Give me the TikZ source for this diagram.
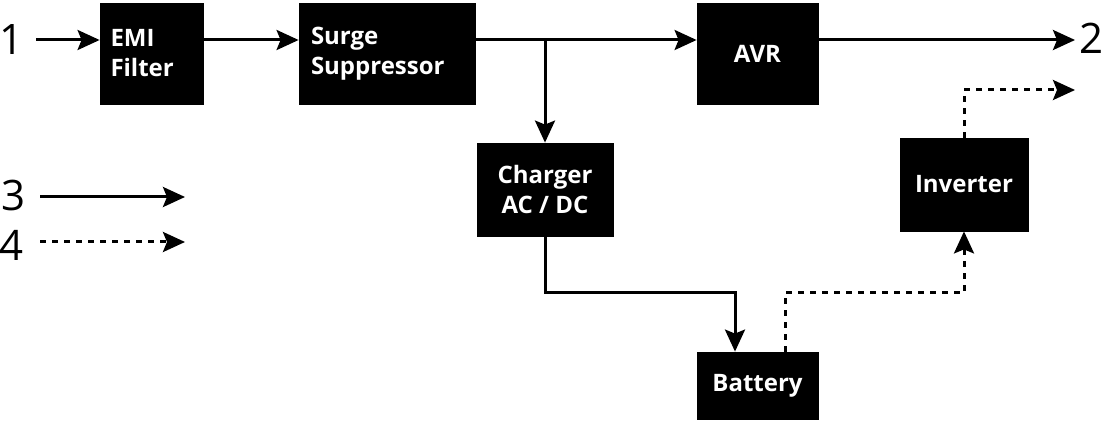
\documentclass[tikz,border=0pt]{standalone}
\usepackage{fontspec}
\setmainfont{Open Sans}
\usetikzlibrary{arrows.meta}
\tikzset{
    block/.style={draw=black,fill=black,text=white,font=\bfseries\fontsize{12pt}{15pt}\selectfont,
        align=left,inner sep=0pt},
    num/.style={font=\fontsize{21pt}{23pt}\selectfont,inner sep=0pt},
    flow/.style={line width=1.5pt,-{Stealth[length=11pt,width=10pt,inset=2pt]}},
    dotflow/.style={flow,dash pattern=on 3pt off 3pt}
}
\begin{document}
\begin{tikzpicture}[x=0.5pt,y=-0.5pt]
    \useasboundingbox (0,0) rectangle (1103,422);

    % Blocks
    \node[block,minimum width=51.5pt,minimum height=50.5pt,text width=41pt] (emi) at (151.5,53.5) {EMI\\Filter};
    \node[block,minimum width=88pt,minimum height=50.5pt,text width=76pt] (surge) at (387,53.5) {Surge\\Suppressor};
    \node[block,minimum width=60.5pt,minimum height=50.5pt] (avr) at (757.5,53.5) {AVR};
    \node[block,minimum width=68pt,minimum height=46.5pt,align=center] (charger) at (545,189.5) {Charger\\AC / DC};
    \node[block,minimum width=64pt,minimum height=46.5pt] (inverter) at (964,184.5) {Inverter};
    \node[block,minimum width=60.5pt,minimum height=33.5pt] (battery) at (757.5,385.5) {Battery};

    % Labels
    \node[num] (n1) at (12,40) {1};
    \node[num] (n2) at (1091,38) {2};
    \node[num] (n3) at (14,195) {3};
    \node[num] (n4) at (12,245) {4};
    \coordinate (o2) at (1075,40);
    \coordinate (o2b) at (1075,90);
    \coordinate (l3a) at (40,197);
    \coordinate (l3b) at (185,197);
    \coordinate (l4a) at (40,242);
    \coordinate (l4b) at (185,242);
    \coordinate (split) at (545,40);

    % Main line
    \draw[flow] (n1.east) ++(6pt,0) -- (emi.west |- 0,40);
    \draw[flow] (emi.east |- 0,40) -- (surge.west |- 0,40);
    \draw[flow] (surge.east |- 0,40) -- (avr.west |- 0,40);
    \draw[flow] (avr.east |- 0,40) -- (o2);
    \draw[flow] (split) -- (charger.north);
    \draw[flow] (charger.south) |- (735,293) -- (battery.north -| 735,0);

    % Battery path
    \draw[dotflow] (battery.north -| 785,0) |- (964,293) -- (inverter.south);
    \draw[dotflow] (inverter.north) |- (o2b);

    % Legend
    \draw[flow] (l3a) -- (l3b);
    \draw[dotflow] (l4a) -- (l4b);
\end{tikzpicture}
\end{document}
